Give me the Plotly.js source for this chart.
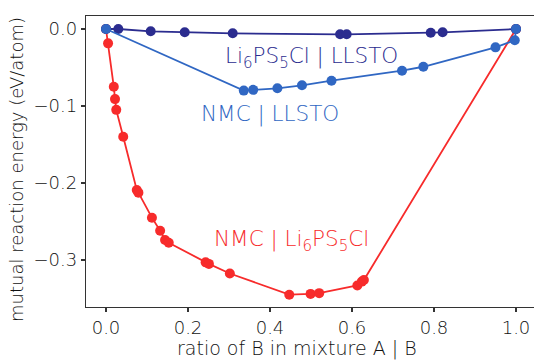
<!DOCTYPE html>
<html><head><meta charset="utf-8">
<script src="https://cdn.plot.ly/plotly-3.0.1.min.js"></script>
<style>html,body{margin:0;padding:0;background:#fff}</style>
</head><body><div id="chart" style="width:534px;height:361px"></div>
<script>
// NMC | Li6PS5Cl
const redX = [0.0, 0.005, 0.019, 0.022, 0.025, 0.042, 0.075, 0.079, 0.112, 0.132, 0.144, 0.153, 0.243, 0.251, 0.302, 0.447, 0.499, 0.520, 0.613, 0.624, 0.629, 1.0];
const redY = [0.0, -0.0186, -0.075, -0.091, -0.105, -0.140, -0.209, -0.2125, -0.245, -0.262, -0.274, -0.2775, -0.303, -0.305, -0.3175, -0.345, -0.344, -0.343, -0.333, -0.328, -0.326, 0.0];
// Li6PS5Cl | LLSTO
const navyX = [0.0, 0.030, 0.109, 0.192, 0.309, 0.571, 0.587, 0.792, 0.821, 1.0];
const navyY = [0.0, 0.0, -0.003, -0.0043, -0.0056, -0.0069, -0.0069, -0.0048, -0.0043, 0.0];
// NMC | LLSTO
const blueX = [0.0, 0.336, 0.359, 0.418, 0.478, 0.550, 0.722, 0.774, 0.950, 0.997, 1.0];
const blueY = [0.0, -0.080, -0.079, -0.077, -0.0731, -0.0671, -0.0541, -0.049, -0.0238, -0.0147, 0.0];

const xTicks = [0.0, 0.2, 0.4, 0.6, 0.8, 1.0];
const yTicks = [-0.3, -0.2, -0.1, 0.0];
const labels = ["Li<sub>6</sub>PS<sub>5</sub>Cl | LLSTO", "NMC | LLSTO", "NMC | Li<sub>6</sub>PS<sub>5</sub>Cl"];
const xTitle = "ratio of B in mixture A | B";
const yTitle = "mutual reaction energy (eV/atom)";

const RED = "#f72b2b", NAVY = "#2b2c8f", BLUE = "#3067c3";
const FONT = "DejaVu Sans";
const W = 200;
const TXT = "#111";

function tr(x, y, c) {
  return {x: x, y: y, type: "scatter", mode: "lines+markers", cliponaxis: false,
    line: {color: c, width: 1.8}, marker: {color: c, size: 10}, hoverinfo: "skip"};
}
const data = [tr(redX, redY, RED), tr(navyX, navyY, NAVY), tr(blueX, blueY, BLUE)];

const tf = {family: FONT, size: 18, color: TXT, weight: W};
const layout = {
  width: 534, height: 361,
  margin: {l: 86, r: 0, t: 16, b: 54},
  paper_bgcolor: "#fff", plot_bgcolor: "#fff",
  showlegend: false,
  font: tf,
  xaxis: {range: [-0.0488, 1.0439], tickvals: xTicks, tickformat: ".1f",
    showgrid: false, zeroline: false, showline: true, mirror: true,
    linecolor: "#333", linewidth: 1.2, ticks: "outside", ticklen: 4, tickcolor: "#333", tickwidth: 1.2,
    tickfont: tf},
  yaxis: {range: [-0.361, 0.0169], tickvals: yTicks, tickformat: ".1f",
    showgrid: false, zeroline: false, showline: true, mirror: false,
    linecolor: "#333", linewidth: 1.2, ticks: "outside", ticklen: 4, tickcolor: "#333", tickwidth: 1.2,
    tickfont: tf},
  annotations: [
    {x: 0.470, y: -0.143, xref: "paper", yref: "paper", text: xTitle, showarrow: false,
     xanchor: "center", yanchor: "middle", font: {family: FONT, size: 19, color: TXT, weight: W}},
    {x: -0.154, y: 0.471, xref: "paper", yref: "paper", text: yTitle, showarrow: false, textangle: -90,
     xanchor: "center", yanchor: "middle", font: {family: FONT, size: 18, color: TXT, weight: W}},
    {x: 0.5, y: -0.0375, xref: "x", yref: "y", text: labels[0], showarrow: false, font: {family: FONT, size: 21.5, color: NAVY, weight: W}},
    {x: 0.399, y: -0.110, xref: "x", yref: "y", text: labels[1], showarrow: false, font: {family: FONT, size: 21.5, color: BLUE, weight: W}},
    {x: 0.453, y: -0.274, xref: "x", yref: "y", text: labels[2], showarrow: false, font: {family: FONT, size: 21.5, color: RED, weight: W}}
  ]
};
Plotly.newPlot("chart", data, layout, {staticPlot: true, displayModeBar: false});
</script></body></html>
